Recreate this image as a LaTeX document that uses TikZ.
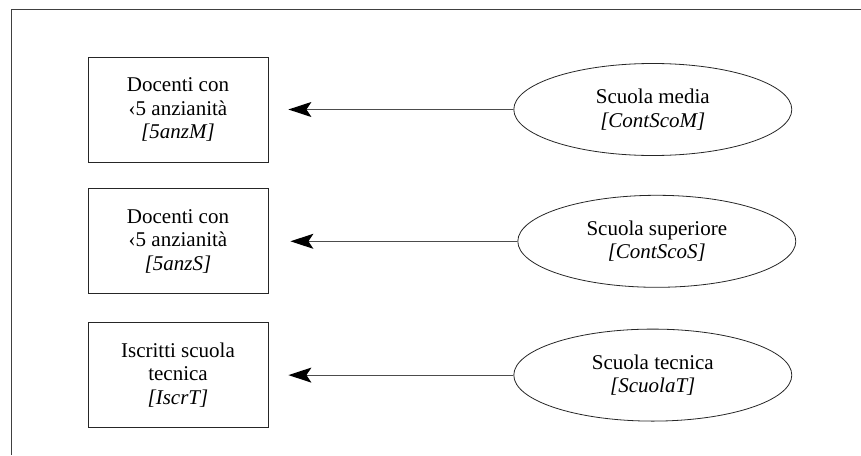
\documentclass[tikz,border=0pt]{standalone}
\usepackage{fontspec}
\setmainfont{Liberation Serif}
\usetikzlibrary{positioning, arrows.meta, shapes.geometric}

\begin{document}
\begin{tikzpicture}[
    node distance = 26pt and 245pt,
    every node/.style = {font=\fontsize{21}{23.5}\selectfont, align=center},
    varbox/.style   = {rectangle, draw=black!85, line width=0.8pt,
                       minimum width=180pt, minimum height=105pt, inner sep=0pt},
    fattore/.style  = {ellipse, draw=black!85, line width=0.8pt,
                       minimum width=278pt, minimum height=92pt, inner sep=0pt},
    cornice/.style  = {draw=black!75, line width=1pt},
    arr/.style      = {-{Stealth[length=23pt, width=15pt, inset=5pt, black]},
                       line width=1.2pt, draw=black!70}
]
\useasboundingbox (0,0) rectangle (861pt,-455pt);

% frame (cut at right and bottom)
\coordinate (fr-tr) at (861pt,-9.5pt);
\coordinate (fr-bl) at (11pt,-455pt);
\draw[cornice] (fr-tr) -| (fr-bl);

% variables
\node[varbox] (anzM) at (178pt,-109.5pt) {Docenti con \\ ‹5 anzianità \\ \textit{[5anzM]}};
\node[varbox, below = of anzM]          (anzS) {Docenti con \\ ‹5 anzianità \\ \textit{[5anzS]}};
\node[varbox, below = 28pt of anzS]     (iscrT) {Iscritti scuola \\ tecnica \\ \textit{[IscrT]}};

% contexts
\node[fattore, right = of anzM]         (scoM) {Scuola media \\ \textit{[ContScoM]}};
\node[fattore, right = 249pt of anzS]   (scoS) {Scuola superiore \\ \textit{[ContScoS]}};
\node[fattore, right = of iscrT]        (scoT) {Scuola tecnica \\ \textit{[ScuolaT]}};

\draw[arr] (scoM.west) -- ([xshift=20pt]anzM.east);
\draw[arr] (scoS.west) -- ([xshift=22pt]anzS.east);
\draw[arr] (scoT.west) -- ([xshift=20pt]iscrT.east);
\end{tikzpicture}
\end{document}
